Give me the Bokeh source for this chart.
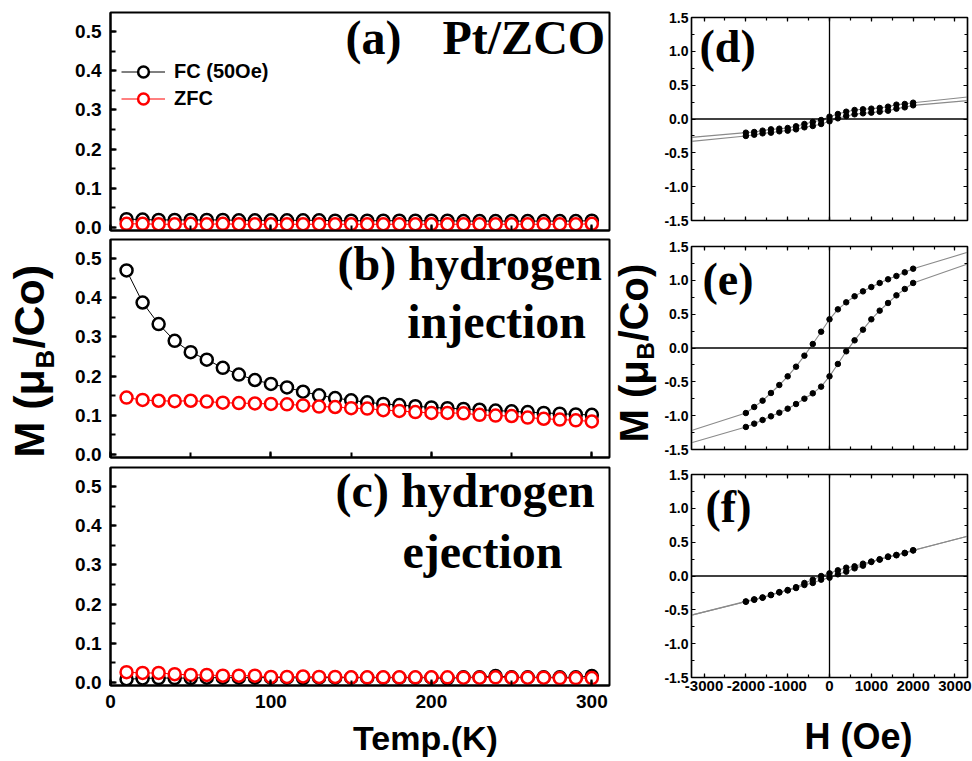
import numpy as np
from bokeh.plotting import figure
from bokeh.models import (Label, Span, LinearAxis, SingleIntervalTicker, PrintfTickFormatter,
                          CustomJSTickFormatter, Legend, LegendItem, Range1d)
from bokeh.layouts import row, column
from bokeh.embed import file_html
from bokeh.resources import INLINE

# ---------------- data ----------------
T = [10, 20, 30, 40, 50, 60, 70, 80, 90, 100, 110, 120, 130, 140, 150,
     160, 170, 180, 190, 200, 210, 220, 230, 240, 250, 260, 270, 280, 290, 300]

FC_A = [0.021, 0.020, 0.019, 0.019, 0.019, 0.019, 0.019, 0.018, 0.018, 0.018,
        0.018, 0.018, 0.018, 0.017, 0.017, 0.017, 0.017, 0.017, 0.017, 0.017,
        0.017, 0.016, 0.016, 0.016, 0.016, 0.016, 0.016, 0.016, 0.016, 0.017]
ZFC_A = [0.009, 0.009, 0.008, 0.008, 0.009, 0.008, 0.009, 0.008, 0.008, 0.008,
         0.008, 0.008, 0.008, 0.008, 0.008, 0.008, 0.008, 0.008, 0.008, 0.008,
         0.008, 0.008, 0.008, 0.008, 0.008, 0.008, 0.008, 0.008, 0.008, 0.009]

FC_B = [0.470, 0.388, 0.333, 0.290, 0.261, 0.242, 0.221, 0.204, 0.190, 0.180,
        0.171, 0.160, 0.151, 0.144, 0.138, 0.133, 0.129, 0.126, 0.123, 0.120,
        0.118, 0.116, 0.114, 0.112, 0.110, 0.108, 0.106, 0.104, 0.102, 0.101]
ZFC_B = [0.145, 0.139, 0.137, 0.136, 0.137, 0.135, 0.132, 0.131, 0.130, 0.129,
         0.128, 0.125, 0.122, 0.121, 0.118, 0.117, 0.113, 0.111, 0.108, 0.106,
         0.106, 0.105, 0.101, 0.099, 0.098, 0.094, 0.091, 0.089, 0.087, 0.084]

FC_C = [0.008, 0.010, 0.011, 0.011, 0.011, 0.012, 0.012, 0.012, 0.012, 0.012,
        0.012, 0.011, 0.012, 0.012, 0.012, 0.012, 0.012, 0.012, 0.012, 0.012,
        0.010, 0.013, 0.013, 0.016, 0.013, 0.013, 0.013, 0.013, 0.013, 0.016]
ZFC_C = [0.026, 0.024, 0.024, 0.021, 0.019, 0.019, 0.017, 0.017, 0.017, 0.014,
         0.014, 0.015, 0.014, 0.014, 0.013, 0.013, 0.013, 0.013, 0.013, 0.013,
         0.013, 0.012, 0.012, 0.013, 0.012, 0.012, 0.012, 0.011, 0.011, 0.011]

H = [-2000, -1800, -1600, -1400, -1200, -1000, -800, -600, -400, -200, 0,
     200, 400, 600, 800, 1000, 1200, 1400, 1600, 1800, 2000]
H_EXT = [-3300, 3300]

D_UP = [-0.202, -0.192, -0.172, -0.153, -0.143, -0.133, -0.108, -0.074, -0.044, -0.015, 0.034,
        0.074, 0.108, 0.133, 0.143, 0.153, 0.163, 0.182, 0.212, 0.222, 0.241]
D_DN = [-0.251, -0.232, -0.212, -0.202, -0.182, -0.172, -0.153, -0.123, -0.103, -0.074, -0.034,
        0.010, 0.044, 0.069, 0.084, 0.094, 0.108, 0.123, 0.153, 0.172, 0.202]
D_UP_EXT = [-0.271, 0.325]
D_DN_EXT = [-0.330, 0.271]

E_UP = [-0.961, -0.872, -0.778, -0.665, -0.547, -0.419, -0.276, -0.113, 0.059, 0.241, 0.424,
        0.571, 0.675, 0.764, 0.837, 0.901, 0.961, 1.015, 1.064, 1.118, 1.172]
E_DN = [-1.167, -1.118, -1.064, -1.010, -0.956, -0.897, -0.828, -0.749, -0.670, -0.571, -0.419,
        -0.236, -0.049, 0.113, 0.271, 0.424, 0.552, 0.665, 0.778, 0.872, 0.961]
E_UP_EXT = [-1.22, 1.414]
E_DN_EXT = [-1.40, 1.24]

F_UP = [-0.375, -0.345, -0.316, -0.278, -0.238, -0.207, -0.165, -0.103, -0.054, 0.000, 0.039,
        0.084, 0.123, 0.143, 0.182, 0.214, 0.248, 0.288, 0.312, 0.342, 0.381]
F_DN = [-0.381, -0.352, -0.322, -0.283, -0.244, -0.214, -0.178, -0.133, -0.103, -0.054, -0.025,
        0.025, 0.064, 0.113, 0.153, 0.207, 0.241, 0.281, 0.306, 0.336, 0.377]
F_UP_EXT = [-0.578, 0.587]
F_DN_EXT = [-0.578, 0.587]

SANS = "Liberation Sans"
SERIF = "Liberation Serif"
BLANK = CustomJSTickFormatter(code="return ''")


def hide_labels(ax):
    ax.formatter = BLANK
    ax.major_label_text_font_size = "1px"
    ax.major_label_standoff = 0


def style_axis(ax, lw, tin, mtin, fsize, standoff):
    ax.axis_line_width = lw
    ax.major_tick_line_width = lw
    ax.minor_tick_line_width = lw
    ax.major_tick_in = tin
    ax.major_tick_out = 0
    ax.minor_tick_in = mtin
    ax.minor_tick_out = 0
    ax.major_label_text_font = SANS
    ax.major_label_text_font_style = "bold"
    ax.major_label_text_font_size = fsize
    ax.major_label_text_color = "black"
    ax.major_label_standoff = standoff


def left_panel(fc, zfc, top, bottom, show_x):
    p = figure(frame_width=499, frame_height=218, min_border_left=48, min_border_right=2,
               min_border_top=top, min_border_bottom=bottom,
               x_range=Range1d(0, 311), y_range=Range1d(-0.008, 0.549),
               output_backend="svg", toolbar_location=None, tools="")
    p.grid.visible = False
    p.outline_line_color = "black"
    p.outline_line_width = 2
    p.xaxis.ticker = SingleIntervalTicker(interval=100, num_minor_ticks=2)
    p.yaxis.ticker = SingleIntervalTicker(interval=0.1, num_minor_ticks=2)
    p.yaxis.formatter = PrintfTickFormatter(format="%.1f")
    for ax in p.xaxis + p.yaxis:
        style_axis(ax, 2, 6, 5, "19px", 9)
    p.yaxis.major_label_standoff = 9
    if not show_x:
        for ax in p.xaxis:
            hide_labels(ax)
    l1 = p.line(T, fc, line_color="black", line_width=1)
    s1 = p.scatter(T, fc, size=12, marker="circle", line_color="black", line_width=2.5,
                   fill_color="white")
    l2 = p.line(T, zfc, line_color="#ff0000", line_width=1)
    s2 = p.scatter(T, zfc, size=12, marker="circle", line_color="#ff0000", line_width=2.5,
                   fill_color="white")
    return p, (l1, s1, l2, s2)


def panel_text(p, x, y, text, size):
    p.add_layout(Label(x=x, y=y, text=text, text_font=SERIF, text_font_style="bold",
                       text_font_size=size, text_color="black", text_align="left",
                       text_baseline="alphabetic"))


def right_panel(up, dn, up_ext, dn_ext, top, bottom, show_x):
    p = figure(frame_width=276, frame_height=203, min_border_left=28, min_border_right=6,
               min_border_top=top, min_border_bottom=bottom,
               x_range=Range1d(-3300, 3300), y_range=Range1d(-1.5, 1.5),
               output_backend="svg", toolbar_location=None, tools="")
    p.grid.visible = False
    p.outline_line_color = "black"
    p.outline_line_width = 1.5
    p.add_layout(LinearAxis(), "above")
    p.add_layout(LinearAxis(), "right")
    for ax in p.xaxis:
        ax.ticker = SingleIntervalTicker(interval=1000, num_minor_ticks=2)
        ax.formatter = PrintfTickFormatter(format="%d")
        style_axis(ax, 1.2, 4, 3, "15px", 3)
    for ax in p.yaxis:
        ax.ticker = SingleIntervalTicker(interval=0.5, num_minor_ticks=2)
        ax.formatter = PrintfTickFormatter(format="%.1f")
        style_axis(ax, 1.2, 4, 3, "14px", 3)
    hide_labels(p.above[0])
    hide_labels(p.right[0])
    if not show_x:
        hide_labels(p.below[0])
    p.add_layout(Span(location=0, dimension="width", line_color="black", line_width=1.3))
    p.add_layout(Span(location=0, dimension="height", line_color="black", line_width=1.3))
    hx = [H_EXT[0]] + H + [H_EXT[1]]
    p.line(hx, [up_ext[0]] + up + [up_ext[1]], line_color="#8a8a8a", line_width=1.1)
    p.line(hx, [dn_ext[0]] + dn + [dn_ext[1]], line_color="#8a8a8a", line_width=1.1)
    p.scatter(H, up, size=5.5, marker="circle", color="black")
    p.scatter(H, dn, size=5.5, marker="circle", color="black")
    return p


def blank(w, h):
    p = figure(frame_width=w, frame_height=h, x_range=Range1d(0, w), y_range=Range1d(0, h),
               x_axis_type=None, y_axis_type=None, min_border=0,
               output_backend="svg", toolbar_location=None, tools="")
    p.outline_line_color = None
    return p


def sans_label(p, x, y, text, size, angle=0.0, align="left"):
    p.add_layout(Label(x=x, y=y, text=text, angle=angle, text_font=SANS,
                       text_font_style="bold", text_font_size=size, text_color="black",
                       text_align=align, text_baseline="alphabetic"))


# ---------------- left column ----------------
pa, ra = left_panel(FC_A, ZFC_A, 12, 7, False)
pb, _ = left_panel(FC_B, ZFC_B, 2, 8, False)
pc, _ = left_panel(FC_C, ZFC_C, 2, 34, True)

legend = Legend(items=[LegendItem(label="FC (50Oe)", renderers=[ra[0], ra[1]]),
                       LegendItem(label="ZFC", renderers=[ra[2], ra[3]])],
                location=(11, 118), margin=0, padding=0, spacing=0,
                glyph_width=44, glyph_height=27, label_height=27, label_standoff=9,
                label_text_font=SANS, label_text_font_style="bold", label_text_font_size="20px",
                label_text_color="black", background_fill_alpha=0, border_line_alpha=0)
pa.add_layout(legend)

panel_text(pa, 146.5, 0.485, "(a)", "48px")
panel_text(pa, 206.9, 0.485, "Pt/ZCO", "48px")
panel_text(pb, 141.5, 0.487, "(b) hydrogen", "48px")
panel_text(pb, 185.0, 0.339, "injection", "48px")
panel_text(pc, 140.3, 0.489, "(c) hydrogen", "48px")
panel_text(pc, 182.0, 0.335, "ejection", "48px")

tl = blank(549, 39)
sans_label(tl, 315, 21, "Temp.(K)", "34px", align="center")

ml = blank(62, 758)
sans_label(ml, 28, 301, "M (\u03bc", "43px", angle=np.pi / 2)
sans_label(ml, 44, 390, "B", "26px", angle=np.pi / 2)
sans_label(ml, 28, 410, "/Co)", "43px", angle=np.pi / 2)

# ---------------- right column ----------------
pd = right_panel(D_UP, D_DN, D_UP_EXT, D_DN_EXT, 17, 17, False)
pe = right_panel(E_UP, E_DN, E_UP_EXT, E_DN_EXT, 9, 16, False)
pf = right_panel(F_UP, F_DN, F_UP_EXT, F_DN_EXT, 9, 24, True)

panel_text(pd, -3109, 1.075, "(d)", "46px")
panel_text(pe, -3037, 1.015, "(e)", "46px")
panel_text(pf, -2965, 1.03, "(f)", "46px")

mr = blank(50, 758)
sans_label(mr, 22, 316, "M (\u03bc", "40px", angle=np.pi / 2)
sans_label(mr, 34, 399, "B", "24px", angle=np.pi / 2)
sans_label(mr, 22, 417, "/Co)", "40px", angle=np.pi / 2)

hb = blank(310, 57)
sans_label(hb, 167, 22, "H (Oe)", "36px", align="center")

layout = row(ml, column(pa, pb, pc, tl, spacing=0), mr,
             column(pd, pe, pf, hb, spacing=0), spacing=0)

open("out.html", "w").write(file_html(layout, INLINE))
